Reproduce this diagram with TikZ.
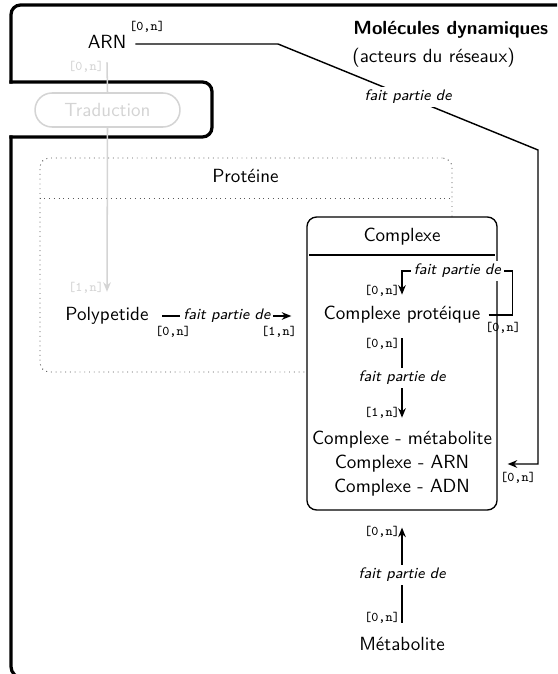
\documentclass[tikz,border=0pt]{standalone}
\usetikzlibrary{arrows.meta}
\definecolor{ghost}{gray}{0.83}
\definecolor{dotline}{gray}{0.35}
\begin{document}
\begin{tikzpicture}[x=0.525pt,y=-0.525pt,font=\sffamily,
  txt/.style={inner sep=0pt,text height=7pt,text depth=2pt},
  lbl/.style={font=\sffamily\footnotesize\itshape,fill=white,inner sep=1.5pt},
  card/.style={font=\ttfamily\scriptsize,inner sep=0pt},
  link/.style={line width=0.75pt,-{Stealth[length=5pt,width=4pt]}},
  ghostlink/.style={ghost,line width=0.8pt,-{Stealth[length=5pt,width=4pt]}},
  frame/.style={line width=1.7pt,line cap=rect}]
\useasboundingbox (0,0) rectangle (557,674);

% outer frame with the notch around the translation step
\begin{scope}
  \clip (0,0) rectangle (557,674);
  \draw[frame,rounded corners=6pt] (11,137) -- (11,678) -- (600,678);
  \draw[frame,rounded corners=5pt] (11,137) -- (212,137) -- (212,82) -- (11,82);
  \draw[frame,rounded corners=5pt] (11,82) -- (11,5) -- (600,5);
\end{scope}

% title
\node[anchor=west,inner sep=0pt] (title) at (353,30) {\bfseries Molécules dynamiques};
\node[anchor=west,inner sep=0pt] (subtitle) at (352,58) {(acteurs du réseaux)};

% protein group (dotted)
\node[draw=dotline,dotted,line width=0.5pt,rounded corners=5pt,
      minimum width=216.3pt,minimum height=112.35pt] (prot) at (246,265) {};
\draw[dotline,dotted,line width=0.5pt] (prot.west |- 0,198) -- (prot.east |- 0,198);
\node[txt] (protTitle) at (245.5,178) {Protéine};

% complex group
\node[draw,fill=white,line width=0.7pt,rounded corners=5pt,
      minimum width=99.75pt,minimum height=153.8pt] (cplx) at (402,363.5) {};
\draw[line width=0.7pt] ([xshift=1.6pt]cplx.west |- 0,255) -- ([xshift=-1.6pt]cplx.east |- 0,255);
\node[txt] (cplxTitle) at (402,237) {Complexe};

% molecules
\node[txt] (arn) at (107,44) {ARN};
\node[draw=ghost,text=ghost,fill=white,line width=0.8pt,rounded corners=8.9pt,
      minimum width=76.1pt,minimum height=17.85pt,inner sep=0pt] (trad) at (107.5,110) {Traduction};
\node[txt] (poly) at (107,316) {Polypetide};
\node[txt] (kprot) at (402,315) {Complexe protéique};
\node[txt] (kmet) at (402,440) {Complexe - métabolite};
\node[txt] (karn) at (402,464) {Complexe - ARN};
\node[txt] (kadn) at (402,488) {Complexe - ADN};
\node[txt] (met) at (402,646) {Métabolite};

% translation (greyed out)
\draw[ghost,line width=0.8pt] ([yshift=-5pt]arn.south) -- (trad.north);
\draw[ghostlink] (trad.south) -- ([yshift=8pt]poly.north);
\node[card,text=ghost] (cTradA) at (86,67) {[0,n]};
\node[card,text=ghost] (cTradB) at (86,288) {[1,n]};

% RNA is part of complexes
\draw[link] ([xshift=4.6pt]arn.east) -- (278,44)
  -- node[lbl] {fait partie de} (538,150)
  |- ([xshift=5.25pt]cplx.east |- karn);
\node[card] (cArnA) at (147,27) {[0,n]};
\node[card] (cArnB) at (518,478) {[0,n]};

% polypeptide is part of complexes
\draw[link] ([xshift=7pt]poly.east) -- node[lbl] {fait partie de} ([xshift=-7.9pt]cplx.west |- poly);
\node[card] (cPolyA) at (173,332) {[0,n]};
\node[card] (cPolyB) at (279,332) {[1,n]};

% protein complex contains protein complexes
\draw[link] ([xshift=4.2pt]kprot.east) -- ++(24,0) -- ++(0,-44) coordinate (loopTop)
  -- node[lbl] {fait partie de} (loopTop -| kprot.north) -- ([yshift=6pt]kprot.north);
\node[card] (cLoopA) at (382,291) {[0,n]};
\node[card] (cLoopB) at (503,328) {[0,n]};

% protein complex is part of other complexes
\draw[link] ([yshift=-7.6pt]kprot.south) -- node[lbl] {fait partie de} ([yshift=7pt]kmet.north);
\node[card] (cProtA) at (382,344) {[0,n]};
\node[card] (cProtB) at (382,413) {[1,n]};

% metabolite is part of complexes
\draw[link] ([yshift=7.6pt]met.north) -- node[lbl] {fait partie de} ([yshift=-8.9pt]cplx.south);
\node[card] (cMetA) at (382,532) {[0,n]};
\node[card] (cMetB) at (382,618) {[0,n]};
\end{tikzpicture}
\end{document}
